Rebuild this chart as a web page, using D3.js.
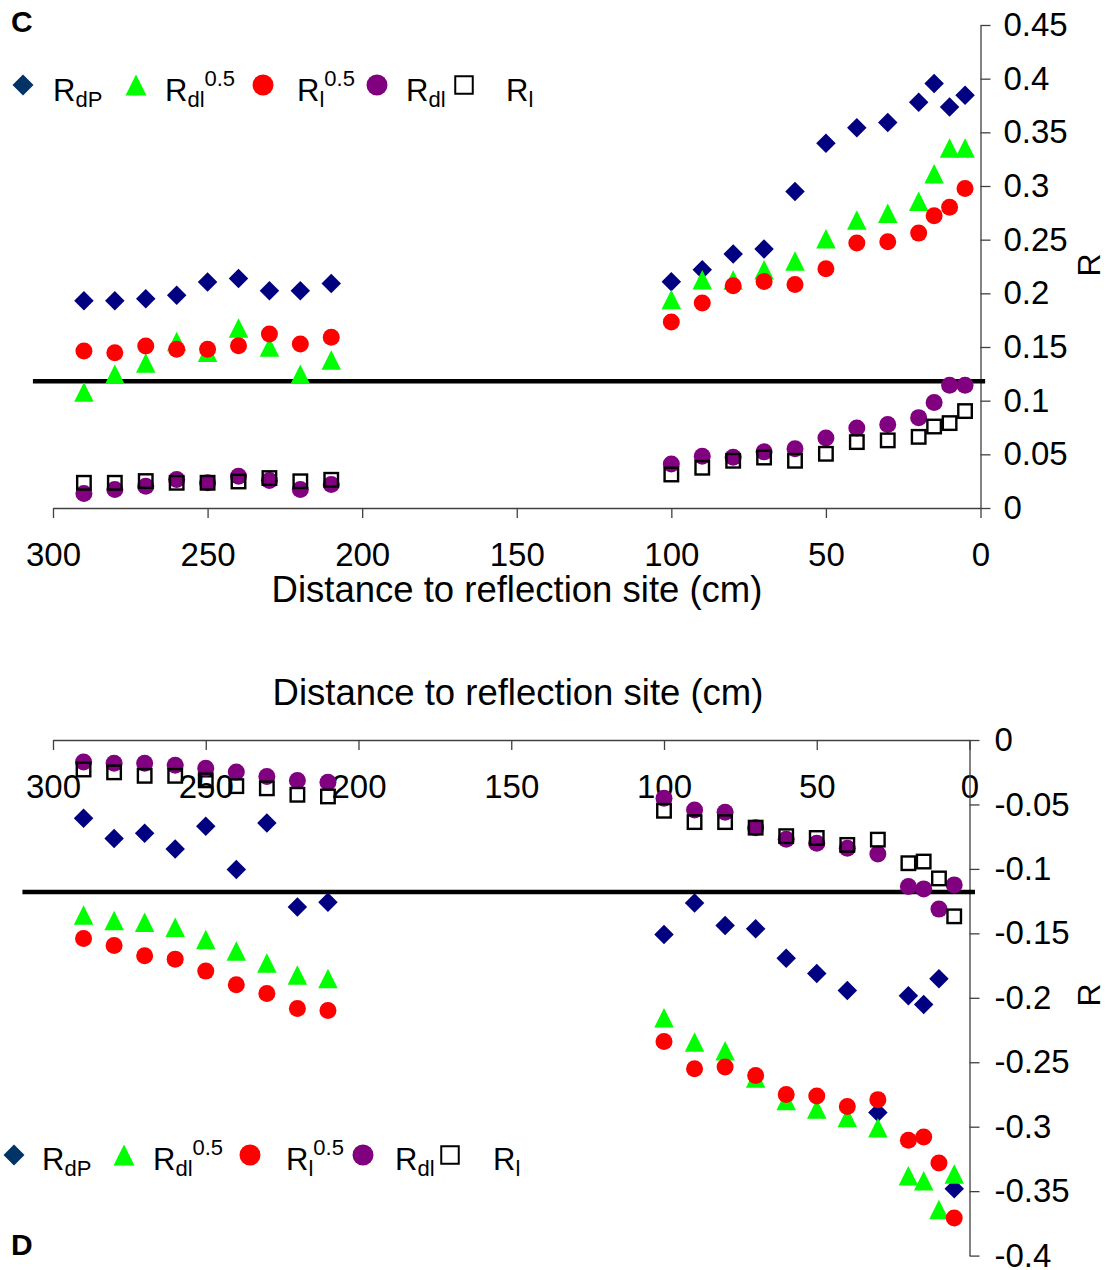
<!DOCTYPE html>
<html>
<head>
<meta charset="utf-8">
<script src="https://cdn.jsdelivr.net/npm/d3@7"></script>
<style>
  body { margin: 0; background: #fff; }
  svg { display: block; }
  text { font-family: "Liberation Sans", Arial, sans-serif; fill: #000; }
</style>
</head>
<body>
<svg id="chart" width="1115" height="1270"></svg>
<script>
// Distance to the reflection site (cm) of each recording position
const distFar  = [290, 280, 270, 260, 250, 240, 230, 220, 210];
const distNear = [100, 90, 80, 70, 60, 50, 40, 30, 20, 15, 10, 5];
const distances = distFar.concat(distNear);

// Panel C: correlation coefficients (positive)
const cRdP   = [0.1931, 0.1931, 0.1950, 0.1981, 0.2105, 0.2139, 0.2024, 0.2024, 0.2092,
                0.2108, 0.2220, 0.2366, 0.2413, 0.2949, 0.3399, 0.3542, 0.3591, 0.3781, 0.3954, 0.3737, 0.3846];
const cRdl05 = [0.1080, 0.1245, 0.1352, 0.1552, 0.1452, 0.1678, 0.1500, 0.1245, 0.1378,
                0.1943, 0.2127, 0.2124, 0.2220, 0.2302, 0.2508, 0.2683, 0.2746, 0.2859, 0.3115, 0.3353, 0.3353];
const cRl05  = [0.1463, 0.1447, 0.1510, 0.1478, 0.1478, 0.1512, 0.1621, 0.1528, 0.1590,
                0.1733, 0.1910, 0.2071, 0.2111, 0.2083, 0.2229, 0.2468, 0.2480, 0.2561, 0.2722, 0.2803, 0.2977];
const cRdl   = [0.0135, 0.0172, 0.0203, 0.0265, 0.0235, 0.0296, 0.0256, 0.0172, 0.0219,
                0.0411, 0.0482, 0.0473, 0.0523, 0.0551, 0.0653, 0.0746, 0.0777, 0.0842, 0.0982, 0.1143, 0.1143];
const cRl    = [0.0235, 0.0235, 0.0251, 0.0235, 0.0235, 0.0247, 0.0279, 0.0249, 0.0263,
                0.0312, 0.0375, 0.0440, 0.0470, 0.0440, 0.0505, 0.0614, 0.0630, 0.0663, 0.0759, 0.0791, 0.0903];

// Panel D: correlation coefficients (negative)
const dRdP   = [-0.0607, -0.0765, -0.0723, -0.0845, -0.0669, -0.1005, -0.0643, -0.1295, -0.1258,
                -0.1509, -0.1264, -0.1439, -0.1465, -0.1693, -0.1812, -0.1944, -0.2889, -0.1984, -0.2052, -0.1853, -0.3481];
const dRdl05 = [-0.1358, -0.1400, -0.1413, -0.1453, -0.1547, -0.1637, -0.1730, -0.1823, -0.1851,
                -0.2155, -0.2343, -0.2410, -0.2623, -0.2796, -0.2863, -0.2928, -0.3008, -0.3380, -0.3419, -0.3643, -0.3366];
const dRl05  = [-0.1540, -0.1594, -0.1674, -0.1700, -0.1793, -0.1899, -0.1966, -0.2083, -0.2098,
                -0.2339, -0.2550, -0.2537, -0.2602, -0.2750, -0.2762, -0.2843, -0.2790, -0.3106, -0.3080, -0.3282, -0.3708];
const dRdl   = [-0.0171, -0.0181, -0.0181, -0.0196, -0.0220, -0.0248, -0.0284, -0.0315, -0.0328,
                -0.0452, -0.0543, -0.0561, -0.0680, -0.0770, -0.0801, -0.0840, -0.0884, -0.1137, -0.1155, -0.1312, -0.1124];
const dRl    = [-0.0229, -0.0251, -0.0278, -0.0278, -0.0313, -0.0358, -0.0375, -0.0425, -0.0438,
                -0.0549, -0.0637, -0.0637, -0.0680, -0.0746, -0.0760, -0.0814, -0.0773, -0.0956, -0.0943, -0.1074, -0.1368];

// Significance level drawn as a horizontal rule in each panel
const threshold = 0.118;

// Axis ticks
const xTicks      = [300, 250, 200, 150, 100, 50, 0];
const xTickLabels = ["300", "250", "200", "150", "100", "50", "0"];
const cYTicks      = [0, 0.05, 0.1, 0.15, 0.2, 0.25, 0.3, 0.35, 0.4, 0.45];
const cYTickLabels = ["0", "0.05", "0.1", "0.15", "0.2", "0.25", "0.3", "0.35", "0.4", "0.45"];
const dYTicks      = [0, -0.05, -0.1, -0.15, -0.2, -0.25, -0.3, -0.35, -0.4];
const dYTickLabels = ["0", "-0.05", "-0.1", "-0.15", "-0.2", "-0.25", "-0.3", "-0.35", "-0.4"];

// Series names: R, subscript, superscript
const seriesNames = [
  { main: "R", sub: "dP", sup: null },
  { main: "R", sub: "dl", sup: "0.5" },
  { main: "R", sub: "l",  sup: "0.5" },
  { main: "R", sub: "dl", sup: null },
  { main: "R", sub: "l",  sup: null }
];

// ---- styling ----
const seriesStyle = [
  { shape: "diamond",  fill: "#000080", legendFill: "#003366" },
  { shape: "triangle", fill: "#00ff00", legendFill: "#00ff00" },
  { shape: "circle",   fill: "#ff0000", legendFill: "#ff0000" },
  { shape: "circle",   fill: "#800080", legendFill: "#800080" },
  { shape: "square",   fill: "none",    legendFill: "none", stroke: "#000" }
];

const svg = d3.select("#chart");
const axisColor = "#404040";

function shapePath(shape, s) {
  // s = full marker size in px
  const h = s / 2;
  if (shape === "diamond")  return `M0,${-h}L${h},0L0,${h}L${-h},0Z`;
  if (shape === "triangle") return `M0,${-h}L${h},${h}L${-h},${h}Z`;
  return null;
}

function drawMarker(g, style, size, isLegend) {
  const fill = isLegend ? style.legendFill : style.fill;
  if (style.shape === "circle") {
    g.append("circle").attr("r", size / 2).attr("fill", fill);
  } else if (style.shape === "square") {
    const w = size - 2.5;
    g.append("rect").attr("x", -w / 2).attr("y", -w / 2).attr("width", w).attr("height", w)
      .attr("fill", "none").attr("stroke", style.stroke).attr("stroke-width", isLegend ? 2 : 2.4);
  } else {
    g.append("path").attr("d", shapePath(style.shape, size)).attr("fill", fill);
  }
}

function drawPanel(cfg) {
  const { x, y, series, yTicks, yTickLabels, yLabelPad, span } = cfg;
  const root = svg.append("g");

  // x axis (distance)
  const xAxis = d3.axisBottom(x)
    .tickValues(xTicks)
    .tickFormat((d, i) => xTickLabels[i])
    .tickSize(10).tickSizeOuter(0).tickPadding(25);
  const gx = root.append("g").attr("transform", `translate(0,${y(0)})`).call(xAxis);

  // y axis (R), on the right
  const yAxis = d3.axisRight(y)
    .tickValues(yTicks)
    .tickFormat((d, i) => yTickLabels[i])
    .tickSize(10).tickSizeOuter(0).tickPadding(yLabelPad);
  const gy = root.append("g").attr("transform", `translate(${x(0)},0)`).call(yAxis);

  [gx, gy].forEach(g => {
    g.select(".domain").attr("stroke", axisColor).attr("stroke-width", 1.3);
    g.selectAll(".tick line").attr("stroke", axisColor).attr("stroke-width", 1.3);
    g.selectAll(".tick text").attr("font-size", 33).attr("fill", "#000")
      .attr("font-family", "'Liberation Sans', Arial, sans-serif");
  });

  // threshold rule
  const thr = cfg.sign * threshold;
  root.append("line")
    .attr("x1", x(span[0])).attr("x2", x(span[1]))
    .attr("y1", y(thr)).attr("y2", y(thr))
    .attr("stroke", "#000").attr("stroke-width", 4.5);

  // markers, one layer per series in order
  series.forEach((vals, si) => {
    const style = seriesStyle[si];
    const size = style.shape === "circle" ? 17 : style.shape === "square" ? 16 : 19.5;
    const layer = root.append("g");
    vals.forEach((v, i) => {
      const m = layer.append("g").attr("transform", `translate(${x(distances[i])},${y(v)})`);
      drawMarker(m, style, size, false);
    });
  });
  return root;
}

function drawLegend(cfg) {
  const g = svg.append("g");
  seriesNames.forEach((n, i) => {
    const m = g.append("g").attr("transform", `translate(${cfg.symX[i]},${cfg.symY})`);
    drawMarker(m, seriesStyle[i], seriesStyle[i].shape === "square" ? 20 : 21, true);
    const t = g.append("text").attr("x", cfg.textX[i]).attr("y", cfg.baseY).attr("font-size", 31);
    t.append("tspan").text(n.main);
    t.append("tspan").attr("font-size", 22).attr("dy", 6).text(n.sub);
    if (n.sup) t.append("tspan").attr("font-size", 22).attr("dy", -21).text(n.sup);
  });
}

function axisTitle(xp, yp, txt) {
  svg.append("text").attr("x", xp).attr("y", yp).attr("text-anchor", "middle")
    .attr("font-size", 36.5).text(txt);
}
function rTitle(xp, yp) {
  svg.append("text").attr("transform", `translate(${xp},${yp}) rotate(-90)`)
    .attr("text-anchor", "middle").attr("font-size", 32).text("R");
}

// ---- Panel C ----
const xC = d3.scaleLinear().domain([300, 0]).range([53, 980.5]);
const yC = d3.scaleLinear().domain([0, 0.45]).range([508, 25]);
drawPanel({ x: xC, y: yC, series: [cRdP, cRdl05, cRl05, cRdl, cRl],
  yTicks: cYTicks, yTickLabels: cYTickLabels, yLabelPad: 13, sign: 1, span: [306.5, -1.5] });
axisTitle(517, 602, "Distance to reflection site (cm)");
rTitle(1100, 265);
drawLegend({ symX: [23, 136, 263, 377, 464], symY: 85, textX: [53, 165, 297, 406, 506], baseY: 101 });
svg.append("text").attr("x", 11).attr("y", 32).attr("font-size", 30).attr("font-weight", "bold").text("C");

// ---- Panel D ----
const xD = d3.scaleLinear().domain([300, 0]).range([53, 969.5]);
const yD = d3.scaleLinear().domain([0, -0.4]).range([740, 1255.6]);
axisTitle(518, 705, "Distance to reflection site (cm)");
drawPanel({ x: xD, y: yD, series: [dRdP, dRdl05, dRl05, dRdl, dRl],
  yTicks: dYTicks, yTickLabels: dYTickLabels, yLabelPad: 15, sign: -1, span: [310, -1.8] });
rTitle(1100, 995);
drawLegend({ symX: [14, 124, 250, 363, 450], symY: 1155, textX: [42, 153, 286, 395, 493], baseY: 1170 });
svg.append("text").attr("x", 11).attr("y", 1255).attr("font-size", 30).attr("font-weight", "bold").text("D");
</script>
</body>
</html>
